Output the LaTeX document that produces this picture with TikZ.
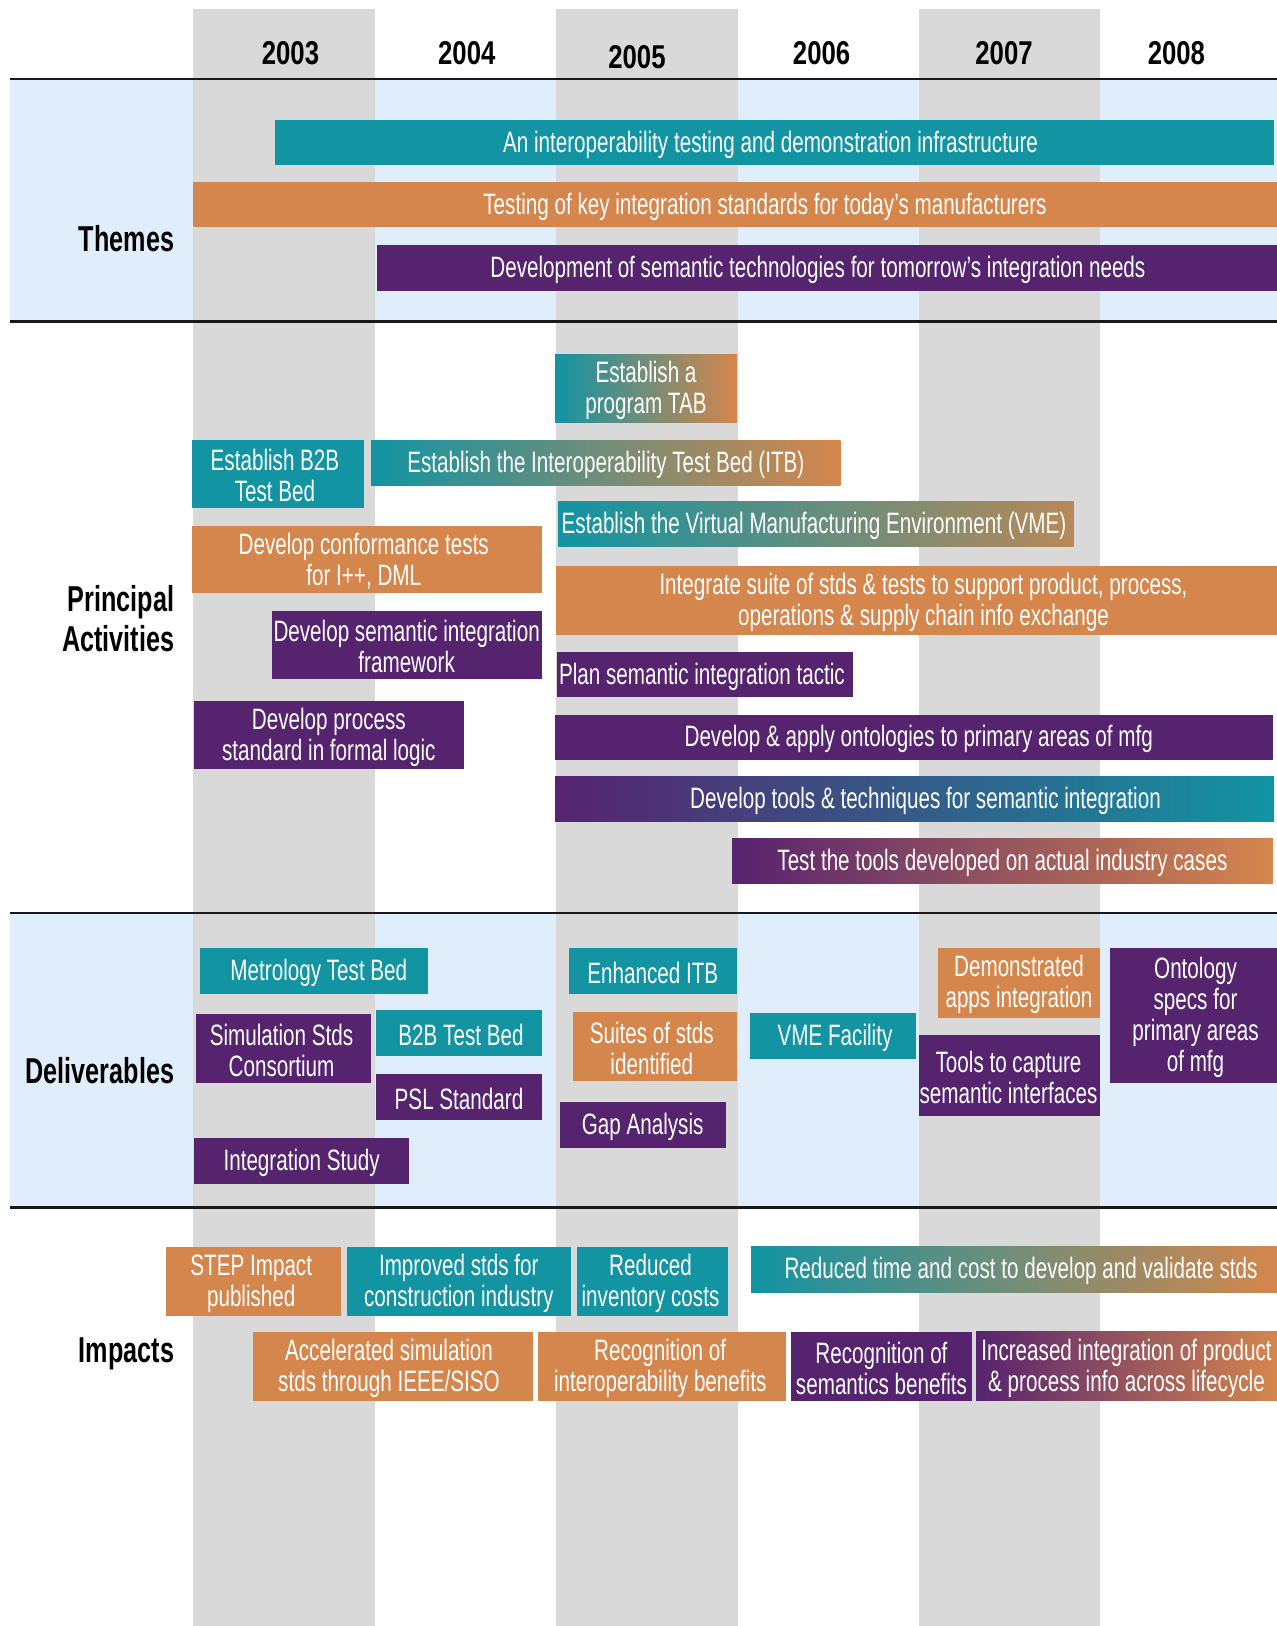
\documentclass[tikz,border=0pt]{standalone}
\usepackage{fontspec}
\setmainfont{Liberation Sans}[FakeStretch=0.70]
\newfontfamily\headfont{Liberation Sans}[FakeStretch=0.70]
\newfontfamily\yearfont{Liberation Sans}[FakeStretch=0.78]
\definecolor{cteal}{HTML}{1294A3}
\definecolor{corange}{HTML}{D5864C}
\definecolor{cpurple}{HTML}{56236F}
\definecolor{cblue}{HTML}{E0EEFB}
\definecolor{cgray}{HTML}{D9D9D9}
\newcommand\bx[8][0]{%
  \pgfmathsetmacro\bw{#6-#4}\pgfmathsetmacro\bh{#7-#5}%
  \pgfmathsetmacro\bcx{(#4+#6)/2}\pgfmathsetmacro\bcy{(#5+#7)/2}%
  \node[boxshape,#3,minimum width=\bw pt,minimum height=\bh pt] (#2) at (\bcx,\bcy) {};%
  \node[boxtext] (#2-t) at ([xshift=#1pt,yshift=-2pt]#2.center) {#8};}
\tikzset{
  boxshape/.style={rectangle, inner sep=0pt, outer sep=0pt, draw=none},
  boxtext/.style={text=white, font=\fontsize{29.5}{31}\selectfont, align=center, inner sep=0pt},
  tl/.style={fill=cteal}, og/.style={fill=corange}, pp/.style={fill=cpurple},
  tlog/.style={left color=cteal, right color=corange},
  ppog/.style={left color=cpurple, right color=corange},
  pptl/.style={left color=cpurple, right color=cteal},
  sect/.style={anchor=east, align=right, inner sep=0pt, font=\headfont\bfseries\fontsize{36}{40}\selectfont},
  yr/.style={inner sep=0pt, font=\yearfont\bfseries\fontsize{33}{36}\selectfont},
  rule/.style={line width=2.5pt, draw=black!90}
}
\begin{document}
\begin{tikzpicture}[x=1pt,y=-1pt]
\useasboundingbox[fill=white] (0,0) rectangle (1277,1626);
% light blue sections
\fill[cblue] (10,79) rectangle (1277,321.6);
\fill[cblue] (10,913) rectangle (1277,1207.5);
% gray year bands
\fill[cgray] (193,9) rectangle (374.5,1626);
\fill[cgray] (556,9) rectangle (737.5,1626);
\fill[cgray] (918.5,9) rectangle (1100,1626);
% rules
\coordinate (r1a) at (10,78.8); \coordinate (r1b) at (1277,78.8);
\coordinate (r2a) at (10,321.6); \coordinate (r2b) at (1277,321.6);
\coordinate (r3a) at (10,913); \coordinate (r3b) at (1277,913);
\coordinate (r4a) at (10,1207.5); \coordinate (r4b) at (1277,1207.5);
\draw[rule] (r1a) -- (r1b);
\draw[rule] (r2a) -- (r2b);
\draw[rule] (r3a) -- (r3b);
\draw[rule] (r4a) -- (r4b);
% years
\node[yr] (y2003) at (290.5,52.9) {2003};
\node[yr] (y2004) at (466.8,52.9) {2004};
\node[yr] (y2005) at (637,57) {2005};
\node[yr] (y2006) at (821.6,52.9) {2006};
\node[yr] (y2007) at (1004,52.9) {2007};
\node[yr] (y2008) at (1176.4,52.9) {2008};
% section labels
\node[sect] (sThemes) at (174.3,238.6) {Themes};
\node[sect] (sPA) at (174.3,618.8) {Principal\\Activities};
\node[sect] (sDel) at (174.3,1071.1) {Deliverables};
\node[sect] (sImp) at (174.3,1354.3) {Impacts};
% Themes
\bx[-4]{t1}{tl}{275}{120.3}{1274}{165}{An interoperability testing and demonstration infrastructure}
\bx[30]{t2}{og}{193}{182.3}{1277}{227.4}{Testing of key integration standards for today’s manufacturers}
\bx[-9]{t3}{pp}{376.8}{244.9}{1277}{290.8}{Development of semantic technologies for tomorrow’s integration needs}
% Principal activities
\bx{p1}{tlog}{555}{354}{737}{422.5}{Establish a\\program TAB}
\bx[-3]{p2}{tl}{192}{439.5}{364}{507.5}{Establish B2B\\Test Bed}
\bx{p3}{tlog}{371}{440}{840.7}{485.7}{Establish the Interoperability Test Bed (ITB)}
\bx[-2]{p4}{left color=cteal, right color=corange!85!cteal}{558.3}{501.5}{1073.7}{546.7}{Establish the Virtual Manufacturing Environment (VME)}
\bx[7]{p5}{og}{556}{566.2}{1277}{635.3}{Integrate suite of stds \& tests to support product, process,\\operations \& supply chain info exchange}
\bx[-3]{p6}{og}{192}{525.5}{541.5}{593.4}{Develop conformance tests\\for I++, DML}
\bx{p7}{pp}{271.8}{611}{541.5}{678.5}{Develop semantic integration\\framework}
\bx[-3]{p8}{pp}{556.5}{652.3}{853.3}{697.3}{Plan semantic integration tactic}
\bx{p9}{pp}{194}{701.3}{463.7}{768.7}{Develop process\\standard in formal logic}
\bx[5]{p10}{pp}{555}{714.5}{1272.5}{759.7}{Develop \& apply ontologies to primary areas of mfg}
\bx[11]{p11}{pptl}{555}{776.5}{1274}{821.7}{Develop tools \& techniques for semantic integration}
\bx{p12}{ppog}{732}{838}{1272.8}{883.8}{Test the tools developed on actual industry cases}
% Deliverables
\bx[5]{d1}{tl}{200}{948}{427.7}{993.7}{Metrology Test Bed}
\bx[-2]{d2}{pp}{196}{1014}{371}{1082.7}{Simulation Stds\\Consortium}
\bx[2]{d3}{tl}{376}{1010}{542}{1056}{B2B Test Bed}
\bx{d4}{pp}{376}{1074}{542}{1119.7}{PSL Standard}
\bx{d5}{pp}{194.2}{1138}{409}{1183.7}{Integration Study}
\bx{d6}{tl}{569}{948}{736.6}{993.7}{Enhanced ITB}
\bx[-3]{d7}{og}{573}{1012}{736.6}{1080.7}{Suites of stds\\identified}
\bx{d8}{pp}{559.8}{1102}{725.5}{1147.7}{Gap Analysis}
\bx[2]{d9}{tl}{750}{1013}{916}{1058.7}{VME Facility}
\bx{d10}{og}{938}{948}{1100}{1017.7}{Demonstrated\\apps integration}
\bx[-1]{d11}{pp}{919}{1035}{1100}{1115.7}{Tools to capture\\semantic interfaces}
\bx[2]{d12}{pp}{1110}{948}{1277}{1082.7}{Ontology\\specs for\\primary areas\\of mfg}
% Impacts
\bx[-2]{i1}{og}{166}{1247}{340.5}{1315.7}{STEP Impact\\published}
\bx{i2}{tl}{347}{1247}{570.6}{1315.7}{Improved stds for\\construction industry}
\bx[-2]{i3}{tl}{577}{1247}{728}{1315.7}{Reduced\\inventory costs}
\bx[7]{i4}{tlog}{751}{1246}{1277}{1292.7}{Reduced time and cost to develop and validate stds}
\bx[-4]{i5}{og}{252.8}{1331.7}{533.2}{1400.7}{Accelerated simulation\\stds through IEEE/SISO}
\bx[-2]{i6}{og}{538.2}{1331.7}{786.2}{1400.7}{Recognition of\\interoperability benefits}
\bx{i7}{pp}{791.3}{1331.7}{971.7}{1400.7}{Recognition of\\semantics benefits}
\bx{i8}{ppog}{976}{1331.7}{1277}{1400.7}{Increased integration of product\\\& process info across lifecycle}
\end{tikzpicture}
\end{document}
